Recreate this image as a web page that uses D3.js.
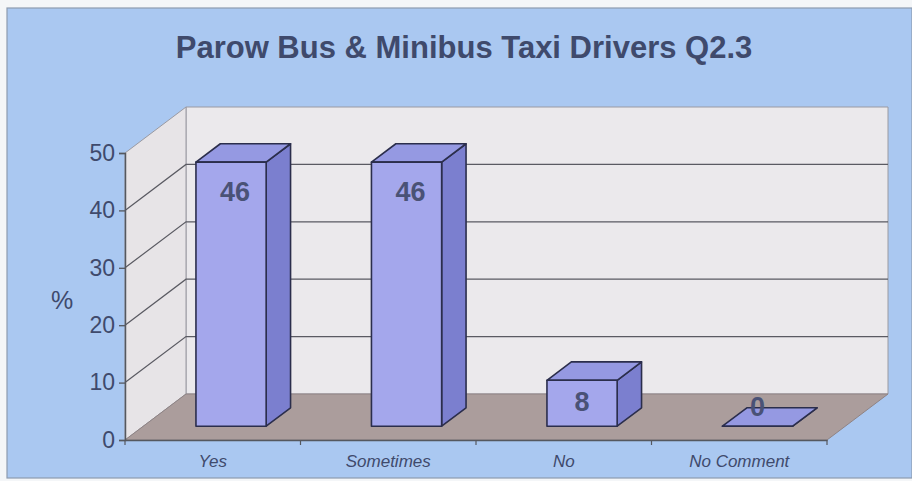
<!DOCTYPE html>
<html>
<head>
<meta charset="utf-8">
<script src="https://cdn.jsdelivr.net/npm/d3@7"></script>
<style>
  html, body { margin: 0; padding: 0; background: #ffffff; }
  svg { display: block; }
  text { font-family: "Liberation Sans", Arial, sans-serif; }
</style>
</head>
<body>
<svg id="chart" width="912" height="481"></svg>
<script>
// ---- data ----
const categories = ["Yes", "Sometimes", "No", "No Comment"];
const values = [46, 46, 8, 0];
const yTicks = [0, 10, 20, 30, 40, 50];
const titleText = "Parow Bus & Minibus Taxi Drivers Q2.3";
const yLabel = "%";

// ---- layout ----
const svg = d3.select("#chart");
const W = 912, H = 481;
const textColor = "#3f4a6c";

// scales (front plane)
const x = d3.scaleLinear().domain([0, categories.length]).range([125, 827]);
const y = d3.scaleLinear().domain([0, 50]).range([440, 153]);
const DX = 61, DY = 46;   // depth offset of the back plane

function P(u, v, d) { return [x(u) + d * DX, y(v) - d * DY]; }
function poly(pts) { return pts.map(p => p.join(",")).join(" "); }

// background panel
svg.append("rect").attr("x", 0).attr("y", 0).attr("width", W).attr("height", H).attr("fill", "#f4f6f8");
svg.append("rect").attr("x", 7).attr("y", 8).attr("width", W - 7).attr("height", 470)
  .attr("fill", "#aac8f1").attr("stroke", "#8d9bb0").attr("stroke-width", 1.2);

// title
svg.append("text").attr("x", 464).attr("y", 58).attr("text-anchor", "middle")
  .attr("font-size", 31).attr("font-weight", "bold").attr("fill", textColor).text(titleText);

const vMax = y.domain()[1];
const uMax = categories.length;

// back wall
svg.append("polygon").attr("points", poly([P(0,0,1), P(uMax,0,1), P(uMax,vMax,1), P(0,vMax,1)]))
  .attr("fill", "#ebe9ec").attr("stroke", "#9a9aa2").attr("stroke-width", 1);
// left wall
svg.append("polygon").attr("points", poly([P(0,0,0), P(0,0,1), P(0,vMax,1), P(0,vMax,0)]))
  .attr("fill", "#e7e4e7").attr("stroke", "#9a9aa2").attr("stroke-width", 1);

// gridlines
const grid = svg.append("g").attr("stroke", "#5a5a62").attr("stroke-width", 1.2).attr("fill", "none");
yTicks.filter(t => t > 0 && t < vMax).forEach(t => {
  grid.append("polyline").attr("points", poly([P(0,t,0), P(0,t,1), P(uMax,t,1)]));
});

// floor
svg.append("polygon").attr("points", poly([P(0,0,0), P(uMax,0,0), P(uMax,0,1), P(0,0,1)]))
  .attr("fill", "#ab9d9c").attr("stroke", "#8f8384").attr("stroke-width", 1);

// bars
const bw0 = 0.3, bw1 = 0.7, d0 = 0.3, d1 = 0.7;
const bars = svg.append("g").attr("stroke", "#2b2e4c").attr("stroke-width", 1.6).attr("stroke-linejoin", "round");
categories.forEach((c, i) => {
  const v = values[i];
  const u0 = i + bw0, u1 = i + bw1;
  bars.append("polygon").attr("points", poly([P(u1,0,d0), P(u1,0,d1), P(u1,v,d1), P(u1,v,d0)]))
    .attr("fill", "#7b7fcf");
  bars.append("polygon").attr("points", poly([P(u0,v,d0), P(u1,v,d0), P(u1,v,d1), P(u0,v,d1)]))
    .attr("fill", "#9599e2");
  bars.append("polygon").attr("points", poly([P(u0,0,d0), P(u1,0,d0), P(u1,v,d0), P(u0,v,d0)]))
    .attr("fill", "#a4a7ec");
});

// data labels
categories.forEach((c, i) => {
  const v = values[i];
  const top = P(i + 0.5, v, d0);
  const h = y(0) - y(v);
  const cy = h < 10 ? top[1] - 20 : top[1] + Math.min(29, h / 2 - 2);
  svg.append("text").attr("x", top[0] + (h > 100 ? 4 : 0)).attr("y", cy).attr("dy", "0.36em")
    .attr("text-anchor", "middle").attr("font-size", 27).attr("font-weight", "bold")
    .attr("fill", "#4a5276").text(v);
});

// y axis
const yAxis = svg.append("g").attr("transform", `translate(${x(0)},0)`)
  .call(d3.axisLeft(y).tickValues(yTicks).tickSize(6).tickPadding(4).tickFormat(d3.format("d")));
yAxis.select(".domain").attr("stroke", "#55585f").attr("stroke-width", 1.5);
yAxis.selectAll(".tick line").attr("stroke", "#55585f").attr("stroke-width", 1.3);
yAxis.selectAll(".tick text").attr("font-size", 23).attr("fill", textColor)
  .attr("font-family", "'Liberation Sans', Arial, sans-serif");

// x axis (front floor edge)
const xb = d3.scaleBand().domain(categories).range([x(0), x(uMax)]);
const xAxis = svg.append("g").attr("transform", `translate(0,${y(0)})`)
  .call(d3.axisBottom(xb).tickSize(0).tickPadding(15));
xAxis.select(".domain").attr("stroke", "#55585f").attr("stroke-width", 1.5);
xAxis.selectAll(".tick text").attr("font-size", 17).attr("font-style", "italic")
  .attr("fill", textColor).attr("font-family", "'Liberation Sans', Arial, sans-serif");
d3.range(0, uMax + 1).forEach(k => {
  svg.append("line").attr("x1", x(k)).attr("x2", x(k)).attr("y1", y(0)).attr("y2", y(0) + 5)
    .attr("stroke", "#55585f").attr("stroke-width", 1.2);
});

// y label
svg.append("text").attr("x", 62).attr("y", 300).attr("dy", "0.36em").attr("text-anchor", "middle")
  .attr("font-size", 25).attr("fill", textColor).text(yLabel);
</script>
</body>
</html>
